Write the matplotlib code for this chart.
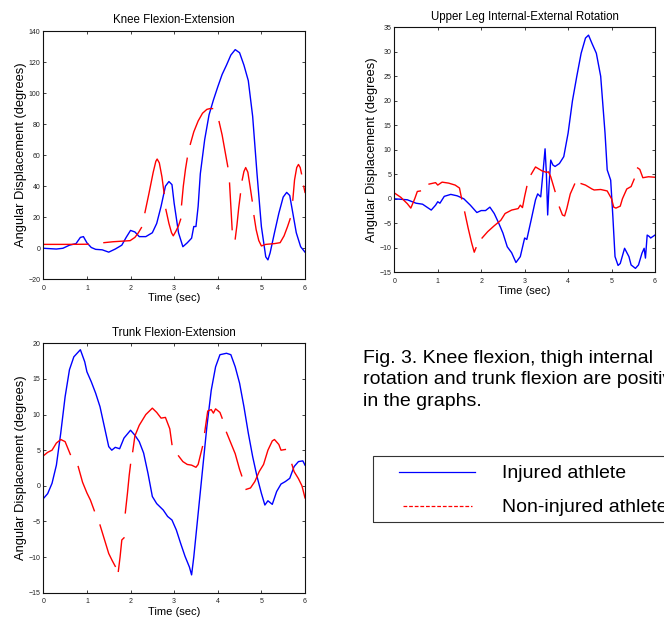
import numpy as np
import matplotlib
matplotlib.use('Agg')
import matplotlib.pyplot as plt
from matplotlib.lines import Line2D
from matplotlib.patches import Rectangle

plt.rcParams['font.family'] = ['Liberation Sans', 'DejaVu Sans']

nan = np.nan

# knee flexion-extension
knee_blue_t = [0, 0.3, 0.45, 0.6, 0.75, 0.85, 0.92, 1.0, 1.1, 1.2, 1.35, 1.5, 1.65, 1.8, 1.9, 2.0, 2.1, 2.2,
               2.35, 2.5, 2.6, 2.7, 2.8, 2.88, 2.95, 3.0, 3.1, 3.2, 3.3, 3.4, 3.45, 3.5, 3.55, 3.6, 3.7, 3.8,
               3.9, 4.0, 4.1, 4.2, 4.3, 4.4, 4.5, 4.6, 4.7, 4.8, 4.9, 5.0, 5.1, 5.15, 5.2, 5.3, 5.4, 5.5,
               5.58, 5.65, 5.7, 5.8, 5.9, 6.0]
knee_blue_y = [0, -0.5, 0, 2, 3, 7, 7.5, 3.5, 0.5, -0.7, -1, -2.5, -0.5, 2, 7, 11.5, 10.5, 7.5,
               7.5, 10, 16, 27, 40, 43, 41, 29, 10, 1, 3.5, 6.5, 14, 14, 27, 48, 70, 86,
               95.5, 104, 112, 118, 124.5, 128, 126, 118, 108, 85, 48, 14, -5.5, -7.5, -3, 10, 22.5, 33,
               36, 34, 26, 10, 1, -2.5]
knee_red_t = [0, 0.5, 1.03, nan,
              1.39, 1.6, 1.99, 2.1, 2.18, 2.25, nan,
              2.33, 2.42, 2.52, 2.58, 2.61, 2.66, 2.72, 2.77, nan,
              2.81, 2.88, 2.94, 2.98, 3.04, 3.1, 3.15, nan,
              3.17, 3.21, 3.26, 3.3, nan,
              3.37, 3.45, 3.55, 3.65, 3.75, 3.82, 3.88, nan,
              4.03, 4.1, 4.17, 4.23, nan,
              4.27, 4.3, 4.33, nan,
              4.4, 4.44, 4.48, 4.52, nan,
              4.56, 4.6, 4.64, 4.69, 4.74, 4.79, nan,
              4.83, 4.88, 4.94, 5.0, 5.1, 5.3, 5.43, 5.52, 5.6, 5.66, nan,
              5.72, 5.76, 5.81, 5.85, 5.89, 5.92, nan,
              5.97, 6.0]
knee_red_y = [2.5, 2.5, 2.6, nan,
              3.6, 4.2, 4.9, 7, 10, 13.3, nan,
              23, 35, 49, 56, 57.5, 55, 46, 35.4, nan,
              25, 16, 10, 8, 11, 14.5, 18.7, nan,
              28, 40, 51, 58, nan,
              67, 75, 82, 87, 89.5, 90, 90, nan,
              81.6, 73, 62, 52.6, nan,
              42, 27, 12, nan,
              6, 15, 26, 35, nan,
              44, 49.5, 52, 49, 40, 30.5, nan,
              21, 12, 5, 1.5, 2.5, 3, 3.6, 8, 14, 19, nan,
              31, 44, 52, 54, 52, 48, nan,
              40, 36]

# upper leg internal-external rotation
leg_blue_t = [0, 0.3, 0.5, 0.65, 0.8, 0.85, 0.95, 1.0, 1.05, 1.15, 1.3, 1.45, 1.6, 1.75, 1.9, 2.0, 2.1,
              2.2, 2.3, 2.4, 2.5, 2.6, 2.7, 2.8, 2.9, 3.0, 3.05, 3.15, 3.25, 3.3, 3.37, 3.42, 3.47, 3.5,
              3.53, 3.56, 3.6, 3.65, 3.7, 3.8, 3.9, 4.0, 4.1, 4.2, 4.3, 4.4, 4.47, 4.55, 4.65, 4.75,
              4.85, 4.9, 4.98, 5.03, 5.08, 5.15, 5.2, 5.3, 5.4, 5.45, 5.55, 5.62, 5.7, 5.75, 5.78,
              5.82, 5.87, 5.9, 6.0]
leg_blue_y = [0, -0.2, -0.9, -1.1, -2, -2.3, -1.3, -0.6, -0.9, 0.5, 0.9, 0.6, 0, -1.3, -2.8, -2.4, -2.4,
              -1.7, -3, -4.9, -7, -9.8, -11, -13, -11.8, -8, -8.3, -4.3, -0.2, 1, 0.4, 5.2, 10.2, 5.2,
              -3.3, 2.5, 7.9, 6.9, 6.6, 7.2, 8.6, 13.4, 20, 25, 29.7, 32.8, 33.4, 31.7, 29.7, 25,
              13.4, 5.9, 3.8, -3.6, -11.8, -13.6, -13.2, -10.1, -11.8, -13.5, -14.2, -13.5, -11.1, -10.1, -12.1,
              -7.4, -7.7, -8, -7.4]
leg_red_t = [0, 0.15, 0.3, 0.38, 0.47, 0.53, 0.6, nan,
             0.8, 0.95, 1.0, 1.1, 1.25, 1.4, 1.5, 1.55, nan,
             1.62, 1.7, 1.78, 1.84, 1.88, nan,
             2.02, 2.15, 2.3, 2.45, 2.55, 2.7, 2.85, 2.9, 2.95, 3.0, 3.05, nan,
             3.15, 3.25, 3.4, 3.5, 3.55, 3.6, 3.7, nan,
             3.8, 3.87, 3.92, 3.97, 4.05, 4.15, nan,
             4.3, 4.4, 4.55, 4.6, 4.75, 4.9, 5.0, 5.05, 5.1, 5.2, 5.25, 5.35, 5.45, 5.52, nan,
             5.6, 5.65, 5.72, 5.85, 6.0]
leg_red_y = [1.2, 0.3, -1, -1.9, 0, 1.5, 1.6, nan,
             3.0, 3.3, 2.8, 3.4, 3.2, 2.8, 2.2, 0, nan,
             -2.7, -6, -9, -10.9, -10, nan,
             -8, -6.7, -5.5, -4.4, -3, -2.3, -2, -1.3, -1.8, 0.5, 2.5, nan,
             5, 6.5, 5.7, 5.4, 5.5, 4.5, 1.5, nan,
             -1.7, -3.3, -3.5, -2, 1, 3, nan,
             3.1, 2.8, 2, 1.8, 1.9, 1.6, 0, -1.7, -1.9, -1.5, 0, 2, 2.5, 4, nan,
             6.3, 6, 4.3, 4.5, 4.4]

# trunk flexion-extension
trunk_blue_t = [0, 0.1, 0.2, 0.3, 0.4, 0.5, 0.6, 0.7, 0.85, 0.95, 1.0, 1.1, 1.2, 1.3, 1.4, 1.5, 1.57,
                1.65, 1.75, 1.85, 2.0, 2.1, 2.2, 2.3, 2.4, 2.5, 2.6, 2.75, 2.85, 2.95, 3.05, 3.15, 3.25,
                3.35, 3.4, 3.45, 3.55, 3.65, 3.75, 3.85, 3.95, 4.05, 4.2, 4.3, 4.4, 4.5, 4.6, 4.7, 4.8,
                4.9, 5.0, 5.08, 5.15, 5.25, 5.35, 5.45, 5.55, 5.65, 5.75, 5.85, 5.95, 6.0]
trunk_blue_y = [-1.8, -1.1, 0.35, 2.9, 7.4, 12.5, 16.3, 18.1, 19.1, 17.4, 16, 14.6, 13, 11.1, 8.3, 5.5, 5.0,
                5.4, 5.2, 6.7, 7.8, 7.1, 6.2, 4.6, 1.75, -1.5, -2.5, -3.4, -4.3, -4.8, -6.2, -8.1, -9.9,
                -11.4, -12.5, -10, -3.9, 2.2, 8.3, 13.4, 16.7, 18.4, 18.6, 18.4, 16.7, 14.4, 11.1, 7.4, 4.1,
                1.3, -1.05, -2.7, -2.1, -2.6, -0.8, 0.25, 0.6, 1.05, 2.7, 3.4, 3.5, 2.9]
trunk_red_t = [0, 0.1, 0.2, 0.3, 0.4, 0.5, 0.58, 0.62, nan,
               0.8, 0.9, 1.0, 1.08, 1.17, nan,
               1.3, 1.4, 1.5, 1.58, 1.65, nan,
               1.72, 1.76, 1.8, 1.85, nan,
               1.88, 1.93, 1.97, 2.0, nan,
               2.05, 2.1, 2.2, 2.35, 2.5, 2.6, 2.7, 2.8, 2.9, 2.95, nan,
               3.1, 3.2, 3.3, 3.4, 3.5, 3.55, 3.65, nan,
               3.7, 3.77, 3.85, 3.9, 3.95, 4.05, 4.1, nan,
               4.2, 4.3, 4.4, 4.5, 4.55, nan,
               4.65, 4.75, 4.85, 4.95, 5.05, 5.15, 5.25, 5.3, 5.4, 5.45, 5.55, nan,
               5.7, 5.75, 5.85, 5.93, 6.0]
trunk_red_y = [4.2, 4.7, 5.0, 6.0, 6.5, 6.2, 5.0, 4.4, nan,
               2.7, 0.5, -1, -2, -3.5, nan,
               -5.5, -7.5, -9.5, -10.5, -11.3, nan,
               -12, -10, -7.6, -7.3, nan,
               -3.8, -1, 1.5, 3, nan,
               4.8, 7, 8.5, 10, 10.9, 10.3, 9.5, 9.6, 8, 5.8, nan,
               4.2, 3.4, 3.0, 2.9, 2.6, 3.0, 5.5, nan,
               7.5, 10.5, 10.7, 10.2, 10.8, 10.3, 9.5, nan,
               7.5, 6, 4.5, 2.3, 1.4, nan,
               -0.5, -0.3, 0.6, 2, 3, 5, 6.3, 6.5, 5.8, 5, 5.1, nan,
               3.0, 2, 1, 0, -1.7]

titles = ['Knee Flexion-Extension', 'Upper Leg Internal-External Rotation', 'Trunk Flexion-Extension']
y_ranges = [(-20, 140, 20), (-15, 35, 5), (-15, 20, 5)]
caption = ['Fig. 3. Knee flexion, thigh internal',
           'rotation and trunk flexion are positive',
           'in the graphs.']
legend_labels = ['Injured athlete', 'Non-injured athlete']

blue = '#0000ff'
red = '#ff0000'

W, H = 664, 621
fig = plt.figure(figsize=(W / 100, H / 100), dpi=100)

def px_axes(left, top, right, bottom):
    return fig.add_axes([left / W, 1 - bottom / H, (right - left) / W, (bottom - top) / H])

axes = [px_axes(43.3, 31, 305, 279.3),
        px_axes(394.3, 27.3, 655, 272.3),
        px_axes(43.3, 343.3, 305, 592.7)]

data = [(knee_blue_t, knee_blue_y, knee_red_t, knee_red_y),
        (leg_blue_t, leg_blue_y, leg_red_t, leg_red_y),
        (trunk_blue_t, trunk_blue_y, trunk_red_t, trunk_red_y)]

for ax, (bt, by, rt, ry), title, (ylo, yhi, ystep) in zip(axes, data, titles, y_ranges):
    ax.plot(bt, by, color=blue, lw=1.0)
    ax.plot(rt, ry, color=red, lw=1.0)
    ax.set_xlim(0, 6)
    ax.set_ylim(ylo, yhi)
    ax.set_xticks(range(0, 7))
    ax.set_yticks(np.arange(ylo, yhi + 1, ystep))
    ax.tick_params(direction='in', top=True, right=True, length=2.5, width=0.6,
                   labelsize=5, colors='#222222')
    ax.tick_params(axis='x', pad=4)
    ax.tick_params(axis='y', pad=2)
    for s in ax.spines.values():
        s.set_linewidth(0.8)
        s.set_color('#111111')
    ax.set_title(title, fontsize=8.3, pad=5.5)
    ax.set_xlabel('Time (sec)', fontsize=8, labelpad=1)
    ax.set_ylabel('Angular Displacement (degrees)', fontsize=9.3, labelpad=1)

# caption (cut at the right edge, as in the source page)
for line, base in zip(caption, [362.7, 384.3, 405.5]):
    fig.text(363 / W, 1 - base / H, line, fontsize=14, va='baseline', ha='left')

# legend box
fig.patches.append(Rectangle((373 / W, 1 - 522 / H), 400 / W, 66 / H, transform=fig.transFigure,
                             fill=False, edgecolor='#333333', lw=0.8))
fig.lines.append(Line2D([399 / W, 475 / W], [1 - 472 / H, 1 - 472 / H], transform=fig.transFigure,
                        color=blue, lw=0.9))
fig.lines.append(Line2D([403 / W, 472 / W], [1 - 506 / H, 1 - 506 / H], transform=fig.transFigure,
                        color=red, lw=0.9, dashes=(3, 1.5)))
fig.text(502 / W, 1 - 473 / H, legend_labels[0], fontsize=14, va='center', ha='left')
fig.text(502 / W, 1 - 508 / H, legend_labels[1], fontsize=14, va='center', ha='left')

fig.savefig('out.png', dpi=100)
